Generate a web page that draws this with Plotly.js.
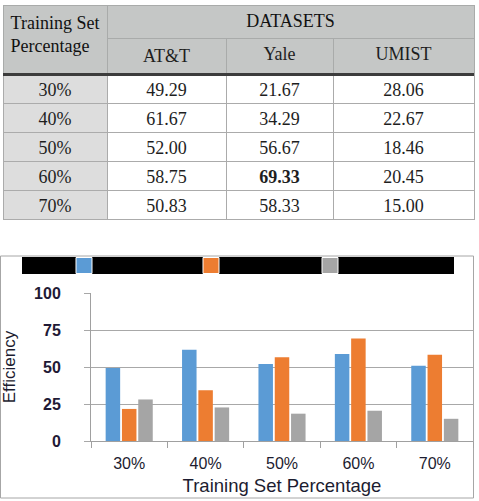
<!DOCTYPE html>
<html>
<head>
<meta charset="utf-8">
<script src="https://cdn.plot.ly/plotly-3.0.1.min.js"></script>
<style>html,body{margin:0;padding:0;background:#fff;}#chart{width:479px;height:501px;}</style>
</head>
<body>
<div id="chart"></div>
<script>
// ---- data ----
var percentages = ["30%", "40%", "50%", "60%", "70%"];
var datasets = ["AT&T", "Yale", "UMIST"];
var attValues = [49.29, 61.67, 52.00, 58.75, 50.83];
var yaleValues = [21.67, 34.29, 56.67, 69.33, 58.33];
var umistValues = [28.06, 22.67, 18.46, 20.45, 15.00];
var yTicks = [0, 25, 50, 75, 100];

// ---- styling ----
var W = 479, H = 501;
var colors = ["#5b9bd5", "#ed7d31", "#a5a5a5"];
var series = [attValues, yaleValues, umistValues];
function px(x) { return x / W; }
function py(y) { return 1 - y / H; }

var maxVal = Math.max.apply(null, series.map(function (s) { return Math.max.apply(null, s); }));
var weights = [percentages.map(function () { return "normal"; })].concat(
  series.map(function (s) { return s.map(function (v) { return v === maxVal ? "bold" : "normal"; }); })
);

var serif = "Liberation Serif, Times New Roman, serif";
var tblText = "#1e1e1e";
var hdrFill = "#c5c7c6";
var hdrLine = "#a9abaa";
var firstColFill = "#dddddd";
var bodyLine = "#ababab";

var traces = [];

// main body table (with AT&T / Yale / UMIST header)
traces.push({
  type: "table",
  domain: { x: [px(3), px(474)], y: [py(226), py(38)] },
  columnwidth: [104, 119, 107, 141],
  header: {
    values: [""].concat(datasets),
    height: 36,
    align: "center",
    fill: { color: hdrFill },
    line: { color: hdrLine, width: 1 },
    font: { family: serif, size: 18, color: tblText }
  },
  cells: {
    values: [percentages].concat(series.map(function (s) { return s.map(function (v) { return v.toFixed(2); }); })),
    height: 29,
    align: "center",
    fill: { color: [firstColFill, "#ffffff", "#ffffff", "#ffffff"] },
    line: { color: bodyLine, width: 1 },
    font: { family: serif, size: 18, color: tblText, weight: weights }
  }
});

// merged "DATASETS" header
traces.push({
  type: "table",
  domain: { x: [px(107), px(474)], y: [py(39), py(5)] },
  header: {
    values: ["DATASETS"],
    height: 33,
    align: "center",
    fill: { color: hdrFill },
    line: { color: hdrLine, width: 1 },
    font: { family: serif, size: 18, color: "#111" }
  },
  cells: { values: [[]], height: 0 }
});

// merged "Training Set Percentage" header
traces.push({
  type: "table",
  domain: { x: [px(3), px(107)], y: [py(75), py(5)] },
  header: {
    values: ["Training Set<br>Percentage"],
    height: 69,
    align: "center",
    fill: { color: hdrFill },
    line: { color: hdrLine, width: 1 },
    font: { family: serif, size: 18, color: "#111" }
  },
  cells: { values: [[]], height: 0 }
});

// bar chart
for (var i = 0; i < datasets.length; i++) {
  traces.push({
    type: "bar",
    name: datasets[i],
    x: percentages,
    y: series[i],
    marker: { color: colors[i] },
    xaxis: "x", yaxis: "y",
    showlegend: false
  });
}

var sans = "Liberation Sans, Arial, sans-serif";

var shapes = [
  // header/body separator
  { type: "line", xref: "paper", yref: "paper", x0: px(3), x1: px(474), y0: py(74.5), y1: py(74.5), line: { color: "#3c3c3c", width: 3 }, layer: "above" },
  // chart border
  { type: "rect", xref: "paper", yref: "paper", x0: px(0.5), x1: px(473.5), y0: py(256), y1: py(498), line: { color: "#a6a6a6", width: 1 }, layer: "below" },
  // redacted legend bar
  { type: "rect", xref: "paper", yref: "paper", x0: px(22), x1: px(454), y0: py(257), y1: py(274), fillcolor: "#000", line: { width: 0 } }
];
var legendX = [76, 203, 322];
for (var j = 0; j < colors.length; j++) {
  shapes.push({ type: "rect", xref: "paper", yref: "paper", x0: px(legendX[j]), x1: px(legendX[j] + 16), y0: py(257.5), y1: py(273.5), fillcolor: colors[j], line: { color: "#ffffff", width: 1 } });
}

var layout = {
  width: W, height: H,
  margin: { l: 0, r: 0, t: 0, b: 0 },
  paper_bgcolor: "#ffffff",
  plot_bgcolor: "#ffffff",
  showlegend: false,
  barmode: "group",
  bargap: 0.36,
  bargroupgap: 0.11,
  xaxis: {
    domain: [px(91), px(473)],
    type: "category",
    showline: true, linecolor: "#a0a0a0", linewidth: 1,
    ticks: "outside", tickson: "boundaries", ticklen: 6, tickcolor: "#a0a0a0",
    tickfont: { family: sans, size: 16, color: "#1c1c30" },
    ticklabelstandoff: 8,
    showgrid: false,
    automargin: false,
    title: { text: "Training Set Percentage", font: { family: sans, size: 18.5, color: "#1c1c30" }, standoff: 7 }
  },
  yaxis: {
    domain: [py(441), py(293)],
    range: [0, 100],
    tickvals: yTicks,
    showline: true, linecolor: "#a0a0a0", linewidth: 1,
    ticks: "outside", ticklen: 6, tickcolor: "#a8a8a8",
    ticklabelstandoff: 20,
    tickfont: { family: sans, size: 16, color: "#1f1a36", weight: "bold" },
    showgrid: true, gridcolor: "#a8a8a8", gridwidth: 1,
    zeroline: false,
    automargin: false,
    title: { text: "Efficiency", font: { family: sans, size: 17, color: "#1c1c30" }, standoff: 14 }
  },
  shapes: shapes
};

Plotly.newPlot("chart", traces, layout, { displayModeBar: false, staticPlot: true });
</script>
</body>
</html>
